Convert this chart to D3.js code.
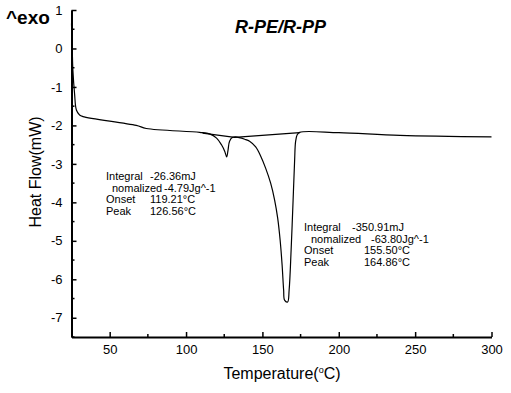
<!DOCTYPE html>
<html>
<head>
<meta charset="utf-8">
<script src="https://cdn.jsdelivr.net/npm/d3@7"></script>
<style>
  html, body { margin: 0; padding: 0; background: #fff; }
  svg text { font-family: 'Liberation Sans', Arial, sans-serif; fill: #000; }
</style>
</head>
<body>
<div id="chart"></div>
<script>
// DSC trace (temperature °C, heat flow mW)
const temps = [25, 25.5, 25.9, 27.0, 28.2, 30.3, 32.5, 67.4, 74, 108.9, 115.4, 120, 123.3, 125.3, 126.6,
  127.5, 128.5, 130.5, 132.5, 138.4, 141.6, 145.6, 148.9, 152.1, 155.4, 158.0, 160.0, 161.6, 162.9,
  163.9, 164.5, 166.5, 167.5, 168.8, 170.1, 171.1, 171.7, 172.7, 174.4, 200, 240, 300];
const heatFlow = [0.65, -0.04, -0.56, -1.17, -1.6, -1.73, -1.77, -2.0, -2.08, -2.18, -2.22, -2.33, -2.51, -2.67, -2.82,
  -2.64, -2.41, -2.31, -2.30, -2.36, -2.41, -2.56, -2.80, -3.11, -3.50, -3.94, -4.41, -4.98, -5.63,
  -6.28, -6.54, -6.59, -6.28, -5.24, -3.94, -2.90, -2.43, -2.25, -2.18, -2.19, -2.26, -2.30];

// integration baselines under the two peaks
const baseTemps = [110.8, 131.8, 174.4];
const baseFlow = [-2.20, -2.31, -2.19];

const xTicks = [50, 100, 150, 200, 250, 300];
const xMinor = [75, 125, 175, 225, 275];
const yTicks = [1, 0, -1, -2, -3, -4, -5, -6, -7];
const yMinor = [0.5, -0.5, -1.5, -2.5, -3.5, -4.5, -5.5, -6.5, -7.5];

const peak1Labels = [['Integral', '-26.36mJ'], ['nomalized', '-4.79Jg^-1'], ['Onset', '119.21°C'], ['Peak', '126.56°C']];
const peak2Labels = [['Integral', '-350.91mJ'], ['nomalized', '-63.80Jg^-1'], ['Onset', '155.50°C'], ['Peak', '164.86°C']];

const W = 511, H = 393;
const svg = d3.select('#chart').append('svg').attr('width', W).attr('height', H);

const x = d3.scaleLinear().domain([25, 300]).range([71.5, 491.5]);
const y = d3.scaleLinear().domain([-7.5, 1]).range([337, 10]);

// Y axis
const yAxis = svg.append('g').attr('transform', 'translate(71.5,0)')
  .call(d3.axisLeft(y).tickValues(yTicks).tickFormat(d => String(d))
    .tickSizeInner(-5).tickSizeOuter(0).tickPadding(9));
yAxis.append('g').selectAll('line').data(yMinor).enter().append('line')
  .attr('x1', 0).attr('x2', 3).attr('y1', d => y(d)).attr('y2', d => y(d));

// X axis
const xAxis = svg.append('g').attr('transform', 'translate(0,337)')
  .call(d3.axisBottom(x).tickValues(xTicks).tickFormat(d => String(d))
    .tickSizeInner(-5).tickSizeOuter(0).tickPadding(8));
xAxis.append('g').selectAll('line').data(xMinor).enter().append('line')
  .attr('x1', d => x(d)).attr('x2', d => x(d)).attr('y1', 0).attr('y2', -3);

svg.selectAll('.domain').attr('stroke', '#000').attr('stroke-width', 2);
xAxis.selectAll('line').attr('stroke', '#000').attr('stroke-width', 1.5);
yAxis.selectAll('line').attr('stroke', '#000').attr('stroke-width', 1.5);
svg.selectAll('.tick text')
  .style('font-family', "'Liberation Sans', Arial, sans-serif")
  .style('font-size', '13px')
  .style('fill', '#000');

// axis titles
svg.append('text')
  .attr('transform', 'translate(41,172) rotate(-90)')
  .attr('text-anchor', 'middle')
  .style('font-size', '16px')
  .text('Heat Flow(mW)');

const xt = svg.append('text')
  .attr('x', 282).attr('y', 379)
  .attr('text-anchor', 'middle')
  .style('font-size', '16px');
xt.append('tspan').text('Temperature(');
xt.append('tspan').attr('dy', -6).style('font-size', '9px').text('o');
xt.append('tspan').attr('dy', 6).text('C)');

// title and exo marker
svg.append('text').attr('x', 235).attr('y', 33)
  .style('font-size', '18px').style('font-weight', 'bold').style('font-style', 'italic')
  .text('R-PE/R-PP');
svg.append('text').attr('x', 6).attr('y', 24)
  .style('font-size', '19px').style('font-weight', 'bold')
  .text('^exo');

// curve
const pts = temps.map((t, i) => [t, heatFlow[i]]);
svg.append('path').datum(pts)
  .attr('d', d3.line().x(d => x(d[0])).y(d => y(d[1])).curve(d3.curveCatmullRom.alpha(0.5)))
  .attr('fill', 'none').attr('stroke', '#000').attr('stroke-width', 1.2);

const bpts = baseTemps.map((t, i) => [t, baseFlow[i]]);
svg.append('path').datum(bpts)
  .attr('d', d3.line().x(d => x(d[0])).y(d => y(d[1])))
  .attr('fill', 'none').attr('stroke', '#000').attr('stroke-width', 1.2);

// annotations
function block(rows, lx, vx, y0, dy) {
  const g = svg.append('g').style('font-size', '11px');
  rows.forEach((r, i) => {
    g.append('text').attr('x', lx[i]).attr('y', y0 + i * dy).text(r[0]);
    g.append('text').attr('x', vx[i]).attr('y', y0 + i * dy).text(r[1]);
  });
}
block(peak1Labels, [106, 112, 106, 106], [150, 164, 150, 150], 180, 11.5);
block(peak2Labels, [304, 311, 304, 304], [352, 371, 364, 364], 231, 11.7);
</script>
</body>
</html>
